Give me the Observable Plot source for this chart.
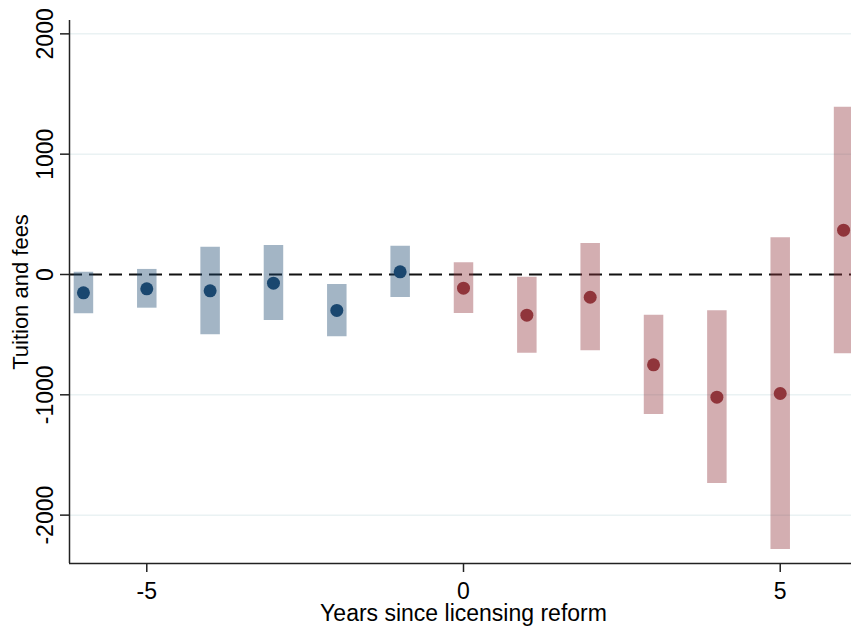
<!DOCTYPE html>
<html><head><meta charset="utf-8">
<script src="https://cdn.jsdelivr.net/npm/d3@7"></script>
<script src="https://cdn.jsdelivr.net/npm/@observablehq/plot@0.6"></script>
<style>body{margin:0;overflow:hidden;background:#fff}</style>
</head><body><div id="chart"></div>
<script>
const years = [-6,-5,-4,-3,-2,-1,0,1,2,3,4,5,6];
const estimates = [-152,-119,-136,-72,-299,22,-114,-338,-189,-751,-1020,-989,368];
const ciLow = [-327,-280,-501,-382,-518,-191,-324,-654,-634,-1164,-1737,-2286,-659];
const ciHigh = [19,42,227,241,-83,235,97,-22,258,-338,-302,305,1391];
const yTicks = [-2000,-1000,0,1000,2000];
const gridTicks = [-2000,-1000,1000,2000];
const xTicks = [-5,0,5];
const xDomain = [-6.22, 6.22];
const yDomain = [-2402, 2111];
const periods = ["pre","post"];
const periodColors = ["#1a476f","#90353b"];
const xTitle = "Years since licensing reform";
const yTitle = "Tuition and fees";

const rows = years.map((t,i)=>({t, est: estimates[i], lo: ciLow[i], hi: ciHigh[i], period: t<0 ? "pre" : "post"}));
const axisColor = "#222";
const fs = 23;

const chart = Plot.plot({
  width: 851, height: 626,
  marginLeft: 69, marginTop: 20, marginBottom: 63, marginRight: 0,
  style: {fontFamily: "'Liberation Sans', Arial, sans-serif", background: "#fff", color: "#000"},
  x: {domain: xDomain, range: [69, 857], axis: null},
  y: {domain: yDomain, axis: null},
  color: {domain: periods, range: periodColors},
  marks: [
    Plot.ruleY(gridTicks, {y: d=>d, stroke: "#eaf2f3", strokeWidth: 1.5}),
    Plot.ruleY([0], {y: d=>d, stroke: "#111", strokeWidth: 2, strokeDasharray: "13,7"}),
    Plot.ruleX(rows, {x: "t", y1: "lo", y2: "hi", stroke: "period", strokeOpacity: 0.4, strokeWidth: 19.5}),
    Plot.dot(rows, {x: "t", y: "est", fill: "period", r: 6.5}),
    Plot.ruleX([xDomain[0]], {x: d=>d, stroke: axisColor, strokeWidth: 1.5}),
    Plot.ruleY([yDomain[0]], {y: d=>d, stroke: axisColor, strokeWidth: 1.5}),
    Plot.axisY({ticks: yTicks, tickSize: 9, tickFormat: () => "", label: null, stroke: axisColor, strokeWidth: 1.5}),
    Plot.axisX({ticks: xTicks, tickSize: 9, tickFormat: () => "", label: null, stroke: axisColor, strokeWidth: 1.5}),
    Plot.text(yTicks, {y: d=>d, text: d=>String(d), frameAnchor: "left", rotate: -90, dx: -24, fontSize: fs, textAnchor: "middle", lineAnchor: "middle", fill: "#000"}),
    Plot.text(xTicks, {x: d=>d, text: d=>String(d), frameAnchor: "bottom", dy: 28, fontSize: fs, textAnchor: "middle", lineAnchor: "middle", fill: "#000"}),
    Plot.text([xTitle], {text: d=>d, frameAnchor: "bottom", dx: 3, dy: 50, fontSize: fs, textAnchor: "middle", lineAnchor: "middle", fill: "#000"}),
    Plot.text([yTitle], {text: d=>d, frameAnchor: "left", rotate: -90, dx: -49, fontSize: 22, textAnchor: "middle", lineAnchor: "middle", fill: "#000"})
  ]
});
document.getElementById("chart").appendChild(chart);
</script>
</body></html>
